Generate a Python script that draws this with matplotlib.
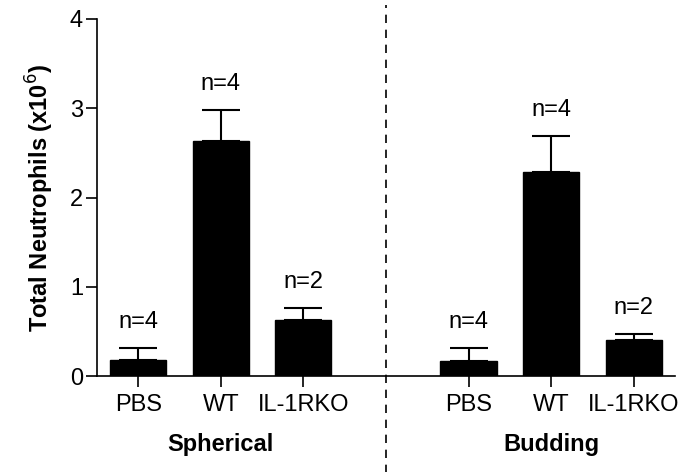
import numpy as np
import matplotlib
matplotlib.use('Agg')
import matplotlib.pyplot as plt

plt.rcParams['font.family'] = ['Liberation Sans', 'DejaVu Sans']

groups = ['Spherical', 'Budding']
conditions = ['PBS', 'WT', 'IL-1RKO']
spherical_mean = [0.18, 2.63, 0.63]
spherical_err = [0.13, 0.35, 0.13]
budding_mean = [0.17, 2.29, 0.40]
budding_err = [0.14, 0.40, 0.07]
n_labels = ['n=4', 'n=4', 'n=2']

fig = plt.figure(figsize=(6.88, 4.72), dpi=100)
ax = fig.add_axes([0.141, 0.203, 0.840, 0.757])

pos_sph = np.array([0, 1, 2])
pos_bud = np.array([4, 5, 6])
width = 0.68

for pos, means, errs in [(pos_sph, spherical_mean, spherical_err),
                         (pos_bud, budding_mean, budding_err)]:
    ax.bar(pos, means, width=width, color='black', edgecolor='black')
    ax.errorbar(pos, means, yerr=[np.zeros(3), errs], fmt='none', ecolor='black',
                elinewidth=1.5, capsize=14, capthick=1.5)
    for p, m, e, t in zip(pos, means, errs, n_labels):
        ax.text(p, m + e + 0.17, t, ha='center', va='bottom', fontsize=17)

ax.set_xlim(-0.5, 6.5)
ax.set_ylim(0, 4)
ax.set_yticks([0, 1, 2, 3, 4])
ax.set_xticks(list(pos_sph) + list(pos_bud))
ax.set_xticklabels(conditions + conditions)
ax.tick_params(axis='both', labelsize=17, length=8, width=1.2, direction='out')
ax.tick_params(axis='x', pad=5)
ax.tick_params(axis='y', pad=2)
for s in ['top', 'right']:
    ax.spines[s].set_visible(False)
for s in ['left', 'bottom']:
    ax.spines[s].set_linewidth(1.2)

ax.set_ylabel('Total Neutrophils (x10$^6$)', fontsize=17, fontweight='bold', labelpad=10)

ax.axvline(3, ymin=-0.27, ymax=1.04, color='black', linestyle=(0, (5, 4)),
           linewidth=1.2, clip_on=False)

for x, g in zip([1, 5], groups):
    ax.text(x, -0.19, g, transform=ax.get_xaxis_transform(), ha='center', va='center',
            fontsize=17, fontweight='bold')

fig.savefig('out.png', dpi=100)
